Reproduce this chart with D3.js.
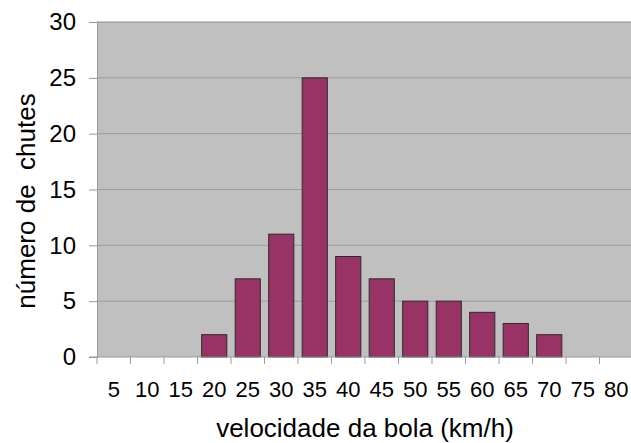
<!DOCTYPE html>
<html>
<head>
<meta charset="utf-8">
<script src="https://cdn.jsdelivr.net/npm/d3@7"></script>
<style>
  html, body { margin: 0; padding: 0; background: #fff; }
  svg { display: block; font-family: "Liberation Sans", Arial, sans-serif; }
</style>
</head>
<body>
<svg id="chart" width="631" height="443"></svg>
<script>
// Distribution of shots by ball speed
const speeds = [5, 10, 15, 20, 25, 30, 35, 40, 45, 50, 55, 60, 65, 70, 75, 80];
const shots  = [0, 0, 0, 2, 7, 11, 25, 9, 7, 5, 5, 4, 3, 2, 0, 0];
const yTicks = [0, 5, 10, 15, 20, 25, 30];
const xTitle = "velocidade da bola (km/h)";
const yTitle = "número de  chutes";

const svg = d3.select("#chart");
const m = { left: 97, top: 22, right: 633, bottom: 357 };

const x = d3.scaleBand()
  .domain(speeds)
  .range([m.left, m.right])
  .paddingInner(0.25)
  .paddingOuter(0.125);

const y = d3.scaleLinear().domain([0, 30]).range([m.bottom, m.top]);

// plot area
svg.append("rect")
  .attr("x", m.left).attr("y", m.top)
  .attr("width", m.right - m.left).attr("height", m.bottom - m.top)
  .attr("fill", "#c0c0c0");

// horizontal gridlines
svg.append("g")
  .selectAll("line")
  .data(yTicks.filter(t => t > 0))
  .join("line")
  .attr("x1", m.left).attr("x2", m.right)
  .attr("y1", d => y(d)).attr("y2", d => y(d))
  .attr("stroke", d => d === 30 ? "#8c8c8c" : "#9c9c9c")
  .attr("stroke-width", 1);

// bars
svg.append("g")
  .selectAll("rect")
  .data(speeds.map((s, i) => ({ s, v: shots[i] })).filter(d => d.v > 0))
  .join("rect")
  .attr("x", d => x(d.s))
  .attr("y", d => y(d.v))
  .attr("width", x.bandwidth())
  .attr("height", d => y(0) - y(d.v))
  .attr("fill", "#993366")
  .attr("stroke", "#2a2a2a")
  .attr("stroke-width", 1);

// y axis
const yAxis = d3.axisLeft(y).tickValues(yTicks).tickSize(8).tickPadding(13);
const gy = svg.append("g").attr("transform", `translate(${m.left},0)`).call(yAxis);
gy.select(".domain").attr("stroke", "#999");
gy.selectAll(".tick line").attr("stroke", "#999");
gy.selectAll(".tick text")
  .attr("fill", "#000")
  .style("font-size", "24px")
  .style("font-family", "'Liberation Sans', Arial, sans-serif");

// x axis: ticks at category boundaries, labels at category centres
const step = x.step();
const gx = svg.append("g");
gx.append("line")
  .attr("x1", m.left - 8).attr("x2", m.right)
  .attr("y1", m.bottom).attr("y2", m.bottom)
  .attr("stroke", "#999");
gx.selectAll("line.tk")
  .data(d3.range(speeds.length + 1))
  .join("line")
  .attr("class", "tk")
  .attr("x1", i => m.left + i * step).attr("x2", i => m.left + i * step)
  .attr("y1", m.bottom).attr("y2", m.bottom + 7)
  .attr("stroke", "#999");
gx.selectAll("text")
  .data(speeds)
  .join("text")
  .attr("x", d => x(d) + x.bandwidth() / 2)
  .attr("y", 397)
  .attr("text-anchor", "middle")
  .style("font-size", "22px")
  .text(d => d);

// axis titles
svg.append("text")
  .attr("x", 365).attr("y", 437)
  .attr("text-anchor", "middle")
  .style("font-size", "26px")
  .text(xTitle);

svg.append("text")
  .attr("transform", "translate(35,201) rotate(-90)")
  .attr("text-anchor", "middle")
  .style("font-size", "26px")
  .attr("xml:space", "preserve")
  .text(yTitle);
</script>
</body>
</html>
